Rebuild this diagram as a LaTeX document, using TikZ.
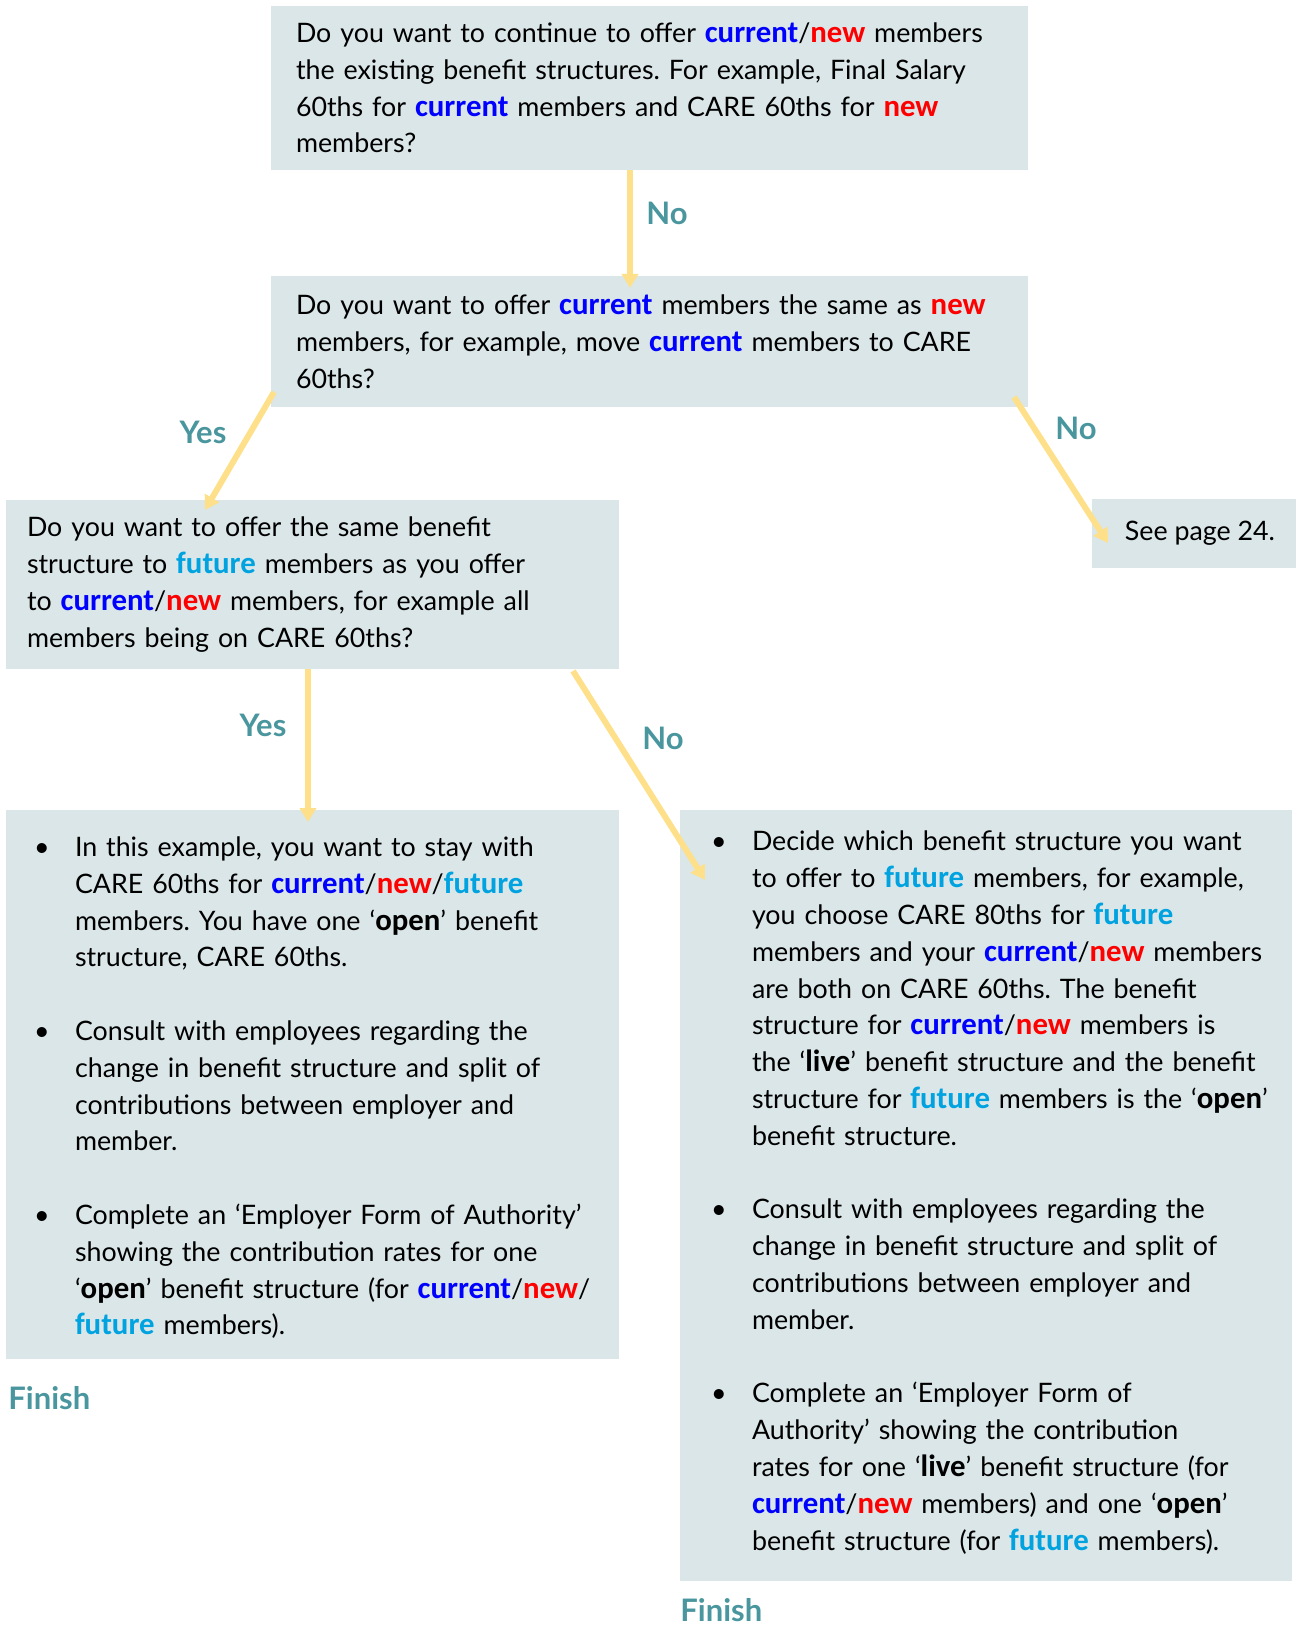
\documentclass[tikz,border=0pt]{standalone}
\usepackage{fontspec}
\setmainfont{Lato}
\newfontfamily\hlfont{Carlito}[Scale=1.15]
\usepackage{enumitem}
\usetikzlibrary{arrows.meta}
\frenchspacing
\hyphenpenalty=10000
\exhyphenpenalty=10000

\definecolor{boxfill}{HTML}{DAE6E8}
\definecolor{curblue}{HTML}{0000FF}
\definecolor{newred}{HTML}{FF0000}
\definecolor{futblue}{HTML}{00A3E0}
\definecolor{answerteal}{HTML}{4A969E}
\definecolor{flowgold}{HTML}{FFE08A}

\newcommand{\curr}{{\hlfont\bfseries\color{curblue}current}}
\newcommand{\neww}{{\hlfont\bfseries\color{newred}new}}
\newcommand{\futr}{{\hlfont\bfseries\color{futblue}future}}
\newcommand{\kw}[1]{{\hlfont\bfseries #1}}
\newenvironment{steps}{\begin{itemize}[label=\textbullet, leftmargin=20.5pt, labelwidth=20.5pt, labelsep=0pt, align=left, rightmargin=-12pt, topsep=0pt, partopsep=0pt, parsep=0pt, itemsep=18.4pt]}{\end{itemize}}

\begin{document}
\begin{tikzpicture}[x=0.5pt, y=-0.5pt, qbox/.style={fill=boxfill, anchor=north west, inner ysep=0pt, outer sep=0pt, align=left, font=\fontsize{13.4}{18.4}\selectfont}, answer/.style={font=\fontsize{15.5}{17}\selectfont\bfseries, text=answerteal, inner sep=0pt}, flow/.style={draw=flowgold, line width=3pt, -{Triangle[width=8pt,length=7pt]}}]
  \useasboundingbox (0,0) rectangle (1296,1625);

  % questions
  \node[qbox, inner xsep=12.5pt, minimum width=378.5pt, minimum height=82pt, text width=353.5pt] (q1) at (271,6) {Do you want to continue to offer \curr/\neww{} members\\
    the existing benefit structures. For example, Final Salary\\
    60ths for \curr{} members and CARE 60ths for \neww\\
    members?};
  \node[qbox, inner xsep=12.5pt, minimum width=378.5pt, minimum height=65.5pt, text width=353.5pt] (q2) at (271,276) {Do you want to offer \curr{} members the same as \neww\\
    members, for example, move \curr{} members to CARE\\
    60ths?};
  \node[qbox, inner xsep=10.5pt, minimum width=306.5pt, minimum height=84.5pt, text width=285.5pt] (q3) at (6,500) {Do you want to offer the same benefit\\
    structure to \futr{} members as you offer\\
    to \curr/\neww{} members, for example all\\
    members being on CARE 60ths?};
  \node[qbox, align=center, inner xsep=0pt, minimum width=102pt, minimum height=34.5pt] (seep) at (1092,499) {\hspace*{6pt}See page 24.};

  % outcomes
  \node[qbox, inner xsep=14pt, minimum width=306.5pt, minimum height=274.5pt, text width=278.5pt] (q4) at (6,810) {\begin{steps}
    \item In this example, you want to stay with\\
      CARE 60ths for \curr/\neww/\futr\\
      members. You have one ‘\kw{open}’ benefit\\
      structure, CARE 60ths.
    \item Consult with employees regarding the\\
      change in benefit structure and split of\\
      contributions between employer and\\
      member.
    \item Complete an ‘Employer Form of Authority’\\
      showing the contribution rates for one\\
      ‘\kw{open}’ benefit structure (for \curr/\neww/\\
      \futr{} members).
  \end{steps}\par\kern5.2pt};
  \node[qbox, inner xsep=15.5pt, minimum width=306pt, minimum height=385.5pt, text width=275pt] (q5) at (680,810) {\begin{steps}
    \item Decide which benefit structure you want\\
      to offer to \futr{} members, for example,\\
      you choose CARE 80ths for \futr\\
      members and your \curr/\neww{} members\\
      are both on CARE 60ths. The benefit\\
      structure for \curr/\neww{} members is\\
      the ‘\kw{live}’ benefit structure and the benefit\\
      structure for \futr{} members is the ‘\kw{open}’\\
      benefit structure.
    \item Consult with employees regarding the\\
      change in benefit structure and split of\\
      contributions between employer and\\
      member.
    \item Complete an ‘Employer Form of\\
      Authority’ showing the contribution\\
      rates for one ‘\kw{live}’ benefit structure (for\\
      \curr/\neww{} members) and one ‘\kw{open}’\\
      benefit structure (for \futr{} members).
  \end{steps}\par\kern11.5pt};

  % answers
  \node[answer] (no1) at (667,213) {No};
  \node[answer] (yes1) at (203,432) {Yes};
  \node[answer] (no2) at (1076,428) {No};
  \node[answer] (yes2) at (263,725) {Yes};
  \node[answer] (no3) at (663,738) {No};
  \node[answer, anchor=base west] (fin1) at (8,1409) {Finish};
  \node[answer, anchor=base west] (fin2) at (680,1621) {Finish};

  % arrows
  \coordinate (t1) at (630,288);
  \draw[flow] (t1 |- q1.south) -- (t1);
  \draw[flow] ([xshift=1.5pt,yshift=7.5pt]q2.south west) -- ([xshift=99.5pt,yshift=-5pt]q3.north west);
  \draw[flow] ([xshift=-7pt,yshift=5pt]q2.south east) -- ([xshift=8pt,yshift=-22pt]seep.north west);
  \draw[flow] ([xshift=151pt]q3.south west) -- ([xshift=151pt,yshift=-6pt]q4.north west);
  \draw[flow] ([xshift=-23pt,yshift=-1pt]q3.south east) -- ([xshift=12.5pt,yshift=-35pt]q5.north west);
\end{tikzpicture}
\end{document}
